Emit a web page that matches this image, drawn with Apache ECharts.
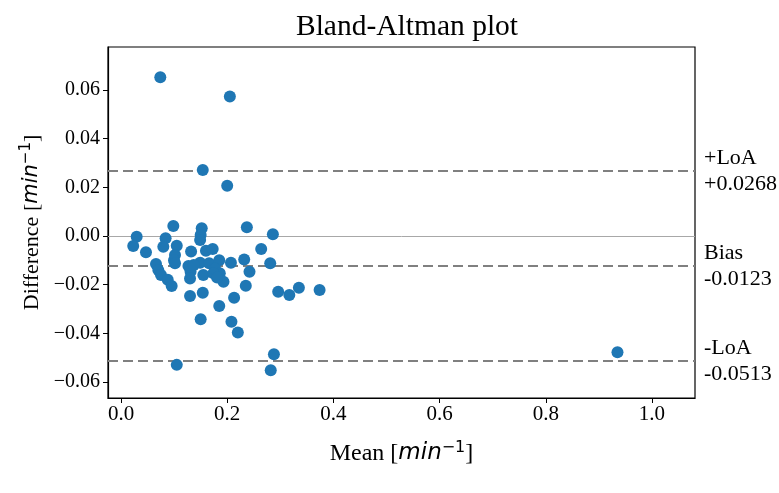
<!DOCTYPE html>
<html>
<head>
<meta charset="utf-8">
<script src="https://cdn.jsdelivr.net/npm/echarts@6/dist/echarts.min.js"></script>
<style>html,body{margin:0;padding:0;background:#fff}#c{width:779px;height:493px}</style>
</head>
<body>
<div id="c"></div>
<script>
// Mean values (x)
var meanValues = [0.074, 0.205, 0.154, 0.200, 0.935, 0.105, 0.288, 0.282,
  0.0295, 0.023, 0.047, 0.0985, 0.084, 0.0797, 0.105, 0.1017, 0.0998, 0.1017,
  0.0659, 0.0703, 0.0753, 0.088, 0.0954, 0.152, 0.150, 0.149, 0.132, 0.160,
  0.1727, 0.127, 0.131, 0.130, 0.149, 0.155, 0.166, 0.185, 0.177, 0.186,
  0.193, 0.207, 0.232, 0.242, 0.235, 0.237, 0.264, 0.286, 0.281, 0.296,
  0.317, 0.335, 0.374, 0.130, 0.154, 0.185, 0.213, 0.150, 0.208, 0.220,
  0.174, 0.181, 0.137];
// Difference values (y)
var diffValues = [0.0652, 0.0573, 0.0271, 0.0206, -0.0477, -0.0529, -0.0485, -0.0551,
  -0.0003, -0.0041, -0.0067, 0.0041, -0.0009, -0.0044, -0.0040, -0.0078, -0.0099, -0.0112,
  -0.0115, -0.0140, -0.0160, -0.0180, -0.0205, 0.0032, 0.0004, -0.0016, -0.0064, -0.0060,
  -0.0053, -0.0123, -0.0147, -0.0174, -0.0110, -0.0160, -0.0112, -0.0099, -0.0133, -0.0153,
  -0.0188, -0.0110, -0.0096, -0.0147, -0.0204, 0.0036, -0.0053, 0.0007, -0.0112, -0.0229,
  -0.0242, -0.0212, -0.0222, -0.0246, -0.0233, -0.0287, -0.0253, -0.0342, -0.0352, -0.0396,
  -0.0153, -0.0170, -0.0119];
var bias = -0.0123;
var upperLoA = 0.0268;
var lowerLoA = -0.0513;
var xTicks = [0.0, 0.2, 0.4, 0.6, 0.8, 1.0];
var yTicks = [-0.06, -0.04, -0.02, 0.00, 0.02, 0.04, 0.06];

var points = meanValues.map(function (m, i) { return [m, diffValues[i]]; });
var serif = '"Liberation Serif", "Times New Roman", serif';
var sans = '"DejaVu Sans", sans-serif';

var chart = echarts.init(document.getElementById('c'), null, {renderer: 'canvas'});
function fmtY(v) { var s = Math.abs(v).toFixed(2); return (v < -1e-9 ? '\u2212' : '') + s; }
function fmtSigned(v) { return (v >= 0 ? '+' : '-') + Math.abs(v).toFixed(4); }

var lineLabel = {
  show: true, position: 'end', distance: 9, color: '#000',
  fontFamily: serif, fontSize: 22, lineHeight: 26, align: 'left', padding: [0, 0, 4, 0]
};
var dashed = {color: '#808080', width: 2.2, type: [10, 5]};
function nameRich(sz) {
  return {
    t: {fontFamily: serif, fontSize: sz, color: '#000'},
    m: {fontFamily: sans, fontStyle: 'italic', fontSize: sz - 1, color: '#000'},
    s: {fontFamily: sans, fontSize: Math.round(sz * 0.68), color: '#000', verticalAlign: 'top', padding: [0, 0, 11, 0]}
  };
}

chart.setOption({
  animation: false,
  backgroundColor: '#fff',
  title: {
    text: 'Bland-Altman plot', left: 402, top: 7, textAlign: 'center',
    textStyle: {fontFamily: serif, fontSize: 29.5, fontWeight: 'normal', color: '#000'}
  },
  grid: {left: 108, right: 84, top: 47, bottom: 95, show: true, borderColor: '#000', borderWidth: 1.2, containLabel: false},
  xAxis: {
    type: 'value', min: -0.0245, max: 1.081,
    name: '{t|Mean [}{m|min}{s|\u22121}{t|]}', nameLocation: 'middle', nameGap: 42,
    nameTextStyle: {rich: nameRich(24)},
    splitLine: {show: false},
    axisLine: {show: true, onZero: false, lineStyle: {color: '#000', width: 1.2}},
    axisTick: {show: true, inside: false, length: 5, customValues: xTicks, lineStyle: {color: '#000'}},
    axisLabel: {customValues: xTicks, margin: 6, fontFamily: serif, fontSize: 21, color: '#000',
      formatter: function (v) { return v.toFixed(1); }}
  },
  yAxis: {
    type: 'value', min: -0.0665, max: 0.0776,
    name: '{t|Difference [}{m|min}{s|\u22121}{t|]}', nameLocation: 'middle', nameGap: 63,
    nameTextStyle: {rich: nameRich(22)},
    splitLine: {show: false},
    axisLine: {show: true, onZero: false, lineStyle: {color: '#000', width: 1.2}},
    axisTick: {show: true, inside: false, length: 5, customValues: yTicks, lineStyle: {color: '#000'}},
    axisLabel: {customValues: yTicks, margin: 8, fontFamily: serif, fontSize: 20, color: '#000', formatter: fmtY}
  },
  series: [
    {
      type: 'scatter', data: [], z: 1, silent: true,
      markLine: {
        silent: true, symbol: 'none', animation: false, precision: 6,
        data: [
          {yAxis: 0, lineStyle: {color: '#a8a8a8', width: 1, type: 'solid'}, label: {show: false}},
          {yAxis: upperLoA, lineStyle: dashed, label: Object.assign({}, lineLabel, {formatter: '+LoA\n' + fmtSigned(upperLoA)})},
          {yAxis: bias, lineStyle: dashed, label: Object.assign({}, lineLabel, {formatter: 'Bias\n' + fmtSigned(bias)})},
          {yAxis: lowerLoA, lineStyle: dashed, label: Object.assign({}, lineLabel, {formatter: '-LoA\n' + fmtSigned(lowerLoA)})}
        ]
      }
    },
    {
      type: 'scatter', data: points, z: 5, symbolSize: 12,
      itemStyle: {color: '#1f77b4', opacity: 1}
    }
  ]
});
</script>
</body>
</html>
